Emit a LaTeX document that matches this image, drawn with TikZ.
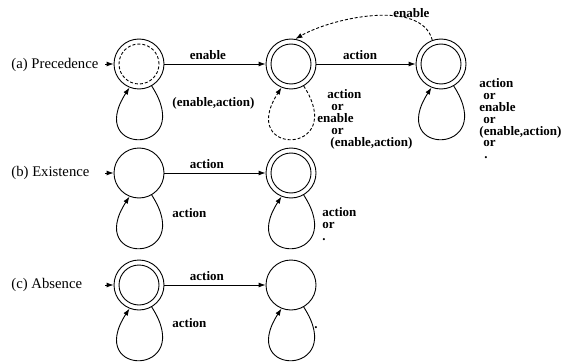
\documentclass[tikz,border=0pt]{standalone}
\usepackage{fontspec}
\setmainfont{Liberation Serif}
\usetikzlibrary{arrows.meta}

\tikzset{
  state/.style={circle, draw, minimum size=50pt, inner sep=0pt},
  final/.style={circle, draw, minimum size=40pt, inner sep=0pt},
  lbl/.style={font=\fontsize{13}{11.9}\selectfont\bfseries, inner sep=0pt, align=left},
  rowlbl/.style={font=\fontsize{14.7}{16}\selectfont, anchor=west, inner sep=0pt},
  selfloop/.style={out=-57, in=-123, distance=83pt},
  dashline/.style={dash pattern=on 3pt off 2pt},
}

\begin{document}
\begin{tikzpicture}[x=1pt, y=1pt, line width=0.9pt, >={Latex[length=7pt,width=5pt]}]
    \useasboundingbox (0,0) rectangle (564,362);

    % (a) Precedence
    \node[rowlbl] (la) at (11,297) {(a) Precedence};
    \node[state] (a1) at (139,298) {};
    \node[final, dashline] (a1i) at (a1) {};
    \node[state] (a2) at (291,298) {};
    \node[final] (a2i) at (a2) {};
    \node[state] (a3) at (441,298) {};
    \node[final] (a3i) at (a3) {};
    \coordinate (a0) at (105,298);

    \draw[->] (a0) -- (a1);
    \draw[->] (a1) -- node[lbl, above=4pt, pos=0.43] {enable} (a2);
    \draw[->] (a2) -- node[lbl, above=4pt, pos=0.44] {action} (a3);
    \draw[->, dashline] (a3.110) to[out=105, in=30, looseness=0.8] node[lbl, pos=0.25, above=1pt] {enable} (a2.80);

    \draw[->] (a1.-60) to[selfloop] (a1.-112);
    \draw[->, dashline] (a2.-60) to[selfloop] (a2.-112);
    \draw[->] (a3.-60) to[selfloop] (a3.-112);

    \node[lbl, anchor=west] (a1l) at (172,259) {(enable,action)};
    \node[lbl, anchor=north west] (a2l) at (317,273) {\hspace*{10pt}action\\\hspace*{14pt}or\\enable\\\hspace*{14pt}or\\\hspace*{13pt}(enable,action)};
    \node[lbl, anchor=north west] (a3l) at (479,284) {action\\\hspace*{4pt}or\\enable\\\hspace*{4pt}or\\(enable,action)\\\hspace*{4pt}or\\\hspace*{5pt}.};

    % (b) Existence
    \node[rowlbl] (lb) at (11,189) {(b) Existence};
    \node[state] (b1) at (139,189) {};
    \node[state] (b2) at (291,189) {};
    \node[final] (b2i) at (b2) {};
    \coordinate (b0) at (105,189);

    \draw[->] (b0) -- (b1);
    \draw[->] (b1) -- node[lbl, above=4pt, pos=0.42] {action} (b2);
    \draw[->] (b1.-60) to[selfloop] (b1.-112);
    \draw[->] (b2.-60) to[selfloop] (b2.-112);

    \node[lbl, anchor=west] (b1l) at (172,149) {action};
    \node[lbl, anchor=north west] (b2l) at (322,155) {action\\or\\.};

    % (c) Absence
    \node[rowlbl] (lc) at (11,77) {(c) Absence};
    \node[state] (c1) at (139,77) {};
    \node[final] (c1i) at (c1) {};
    \node[state] (c2) at (291,77) {};
    \coordinate (c0) at (105,77);

    \draw[->] (c0) -- (c1);
    \draw[->] (c1) -- node[lbl, above=4pt, pos=0.42] {action} (c2);
    \draw[->] (c1.-60) to[selfloop] (c1.-112);
    \draw[->] (c2.-60) to[selfloop] (c2.-112);

    \node[lbl, anchor=west] (c1l) at (172,39) {action};
    \node[lbl, anchor=base west] (c2l) at (314,34) {.};
\end{tikzpicture}
\end{document}
